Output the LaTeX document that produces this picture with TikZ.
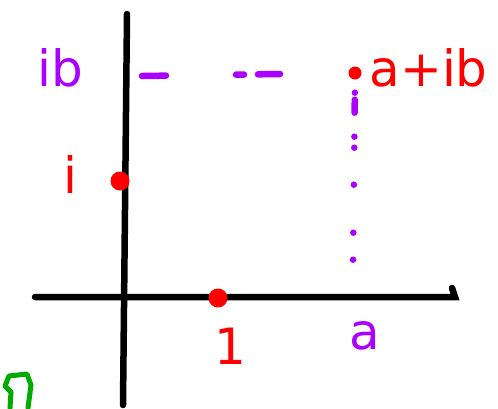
\documentclass[tikz,border=0pt]{standalone}
\usepackage{fontspec}
\setmainfont{DejaVu Sans}
\definecolor{sketchviolet}{RGB}{170,0,255}
\definecolor{sketchgreen}{RGB}{0,170,0}
\begin{document}
\begin{tikzpicture}[x=1pt,y=-1pt,
  axis/.style={line width=6.5pt,line cap=round},
  unitdot/.style={circle,fill=red,inner sep=0pt,minimum size=19pt},
  zdot/.style={circle,fill=red,inner sep=0pt,minimum size=13pt},
  guide/.style={sketchviolet,line width=6.5pt,line cap=round},
  lbl/.style={font=\fontsize{50}{50}\selectfont}]
  \useasboundingbox (0,0) rectangle (498,408);
  % axes
  \draw[axis] (35,297) -- (455,297) -- (452,288);
  \draw[axis] (127,14) -- (123,405);
  % marked points
  \node[unitdot] (i) at (120,181) {};
  \node[unitdot] (one) at (218,298) {};
  \node[zdot] (z) at (355,73) {};
  \coordinate (zy) at (142,76);
  \coordinate (zx) at (353,265);
  % guides to the axes
  \draw[guide,dash pattern=on 24pt off 70pt on 8pt off 14pt on 22pt off 200pt] (zy) -- (z.west);
  \draw[guide,shorten <=13pt,dash pattern=on 0pt off 7pt on 13pt off 24pt on 0pt off 11pt on 0pt off 37pt on 0pt off 48pt on 0pt off 27pt on 0pt off 200pt] (z.south) -- (zx);
  % labels
  \node[lbl,text=sketchviolet] (ib) at (60,68) {ib};
  \node[lbl,text=red] (ilabel) at (70,174) {i};
  \node[lbl,text=red,anchor=west] (zlabel) at (366,68) {a+ib};
  \node[lbl,text=red] (onelabel) at (230,346) {1};
  \node[lbl,text=sketchviolet] (alabel) at (365,336) {a};
  % stray mark
  \draw[sketchgreen,line width=5pt,line cap=round,line join=round]
    (10,408) -- (11,392) -- (5,386) -- (9,376) -- (27,374) -- (31,385) -- (28,408);
\end{tikzpicture}
\end{document}
